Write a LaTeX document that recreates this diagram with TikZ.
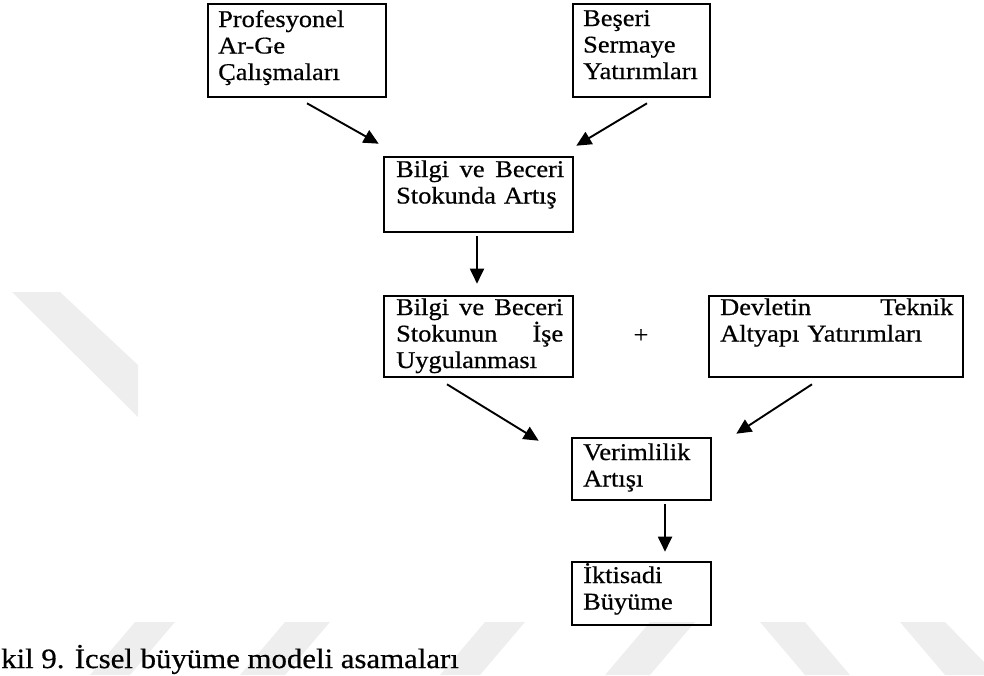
\documentclass[tikz,border=0pt]{standalone}
\usepackage{fontspec}
\setmainfont{Liberation Serif}[FakeStretch=1.1,FakeBold=0.6]
\usetikzlibrary{arrows.meta,calc}
\definecolor{wm}{HTML}{EEEEEE}
\begin{document}
\begin{tikzpicture}[x=1pt,y=-1pt,
  box/.style={draw=black,line width=2.6pt,inner sep=0pt},
  txt/.style={font=\fontsize{24}{26.5}\selectfont,align=left,inner sep=0pt,anchor=base west},
  arr/.style={line width=1.9pt,-{Triangle[length=15pt,width=14pt]}},
  wmark/.style={fill=wm,draw=none}]
\useasboundingbox (0,0) rectangle (984,675);
% faint watermark shapes
\fill[wm] (12,292) -- (60,292) -- (138,365) -- (138,417) -- cycle;
\fill[wm] (90,675) -- (135,622) -- (175,622) -- (130,675) -- cycle;
\fill[wm] (240,675) -- (285,622) -- (330,622) -- (285,675) -- cycle;
\fill[wm] (440,675) -- (485,622) -- (525,622) -- (480,675) -- cycle;
\fill[wm] (605,675) -- (650,622) -- (695,622) -- (650,675) -- cycle;
\fill[wm] (760,622) -- (805,622) -- (850,675) -- (805,675) -- cycle;
\fill[wm] (900,622) -- (945,622) -- (984,662) -- (984,675) -- (945,675) -- cycle;
% boxes
\node[box,minimum width=178pt,minimum height=93pt] (b1) at (297,50.5) {};
\node[box,minimum width=137pt,minimum height=93pt] (b2) at (641.5,50.5) {};
\node[box,minimum width=189pt,minimum height=75pt] (b3) at (478.5,194.5) {};
\node[box,minimum width=189pt,minimum height=81pt] (b4) at (478.5,336.5) {};
\node[box,minimum width=254pt,minimum height=81pt] (b5) at (836,336.5) {};
\node[box,minimum width=139pt,minimum height=62pt] (b6) at (641.5,469) {};
\node[box,minimum width=139pt,minimum height=63pt] (b7) at (641.5,593.5) {};
% texts
\node[txt,text width=160pt] (t1) at (218,27) {Profesyonel\\Ar-Ge\\Çalışmaları};
\node[txt,text width=120pt] (t2) at (583,26) {Beşeri\\Sermaye\\Yatırımları};
\node[txt,text width=168pt] (t3) at (396,177) {Bilgi\hfill ve\hfill Beceri\\Stokunda Artış};
\node[txt,text width=167pt] (t4) at (396,315) {Bilgi\hfill ve\hfill Beceri\\Stokunun\hfill İşe\\Uygulanması};
\node[txt,text width=233pt] (t5) at (720,315) {Devletin\hfill Teknik\\Altyapı Yatırımları};
\node[txt,text width=120pt] (t6) at (583,460) {Verimlilik\\Artışı};
\node[txt,text width=120pt] (t7) at (583,583) {İktisadi\\Büyüme};
\node[font=\fontsize{24}{26}\selectfont,inner sep=0pt] (plus) at (641,336) {+};
% arrows
\draw[arr] ([shift={(10,5)}]b1.south) -- ([shift={(-4,-12)}]b3.north west);
\draw[arr] ([shift={(5.5,5)}]b2.south) -- ([shift={(2,-10)}]b3.north east);
\draw[arr] ([shift={(-1.5,3)}]b3.south) -- ([shift={(-1.5,-11)}]b4.north);
\draw[arr] ([shift={(-31.5,6)}]b4.south) -- ([shift={(-32,4)}]b6.north west);
\draw[arr] ([shift={(-24,6)}]b5.south) -- ([shift={(24,-3)}]b6.north east);
\draw[arr] ([shift={(23.5,3)}]b6.south) -- ([shift={(23.5,-9)}]b7.north);
% caption
\node[font=\fontsize{28}{30}\selectfont,inner sep=0pt,anchor=base west] (cap) at (1,668) {kil 9. İcsel büyüme modeli asamaları};
\end{tikzpicture}
\end{document}
